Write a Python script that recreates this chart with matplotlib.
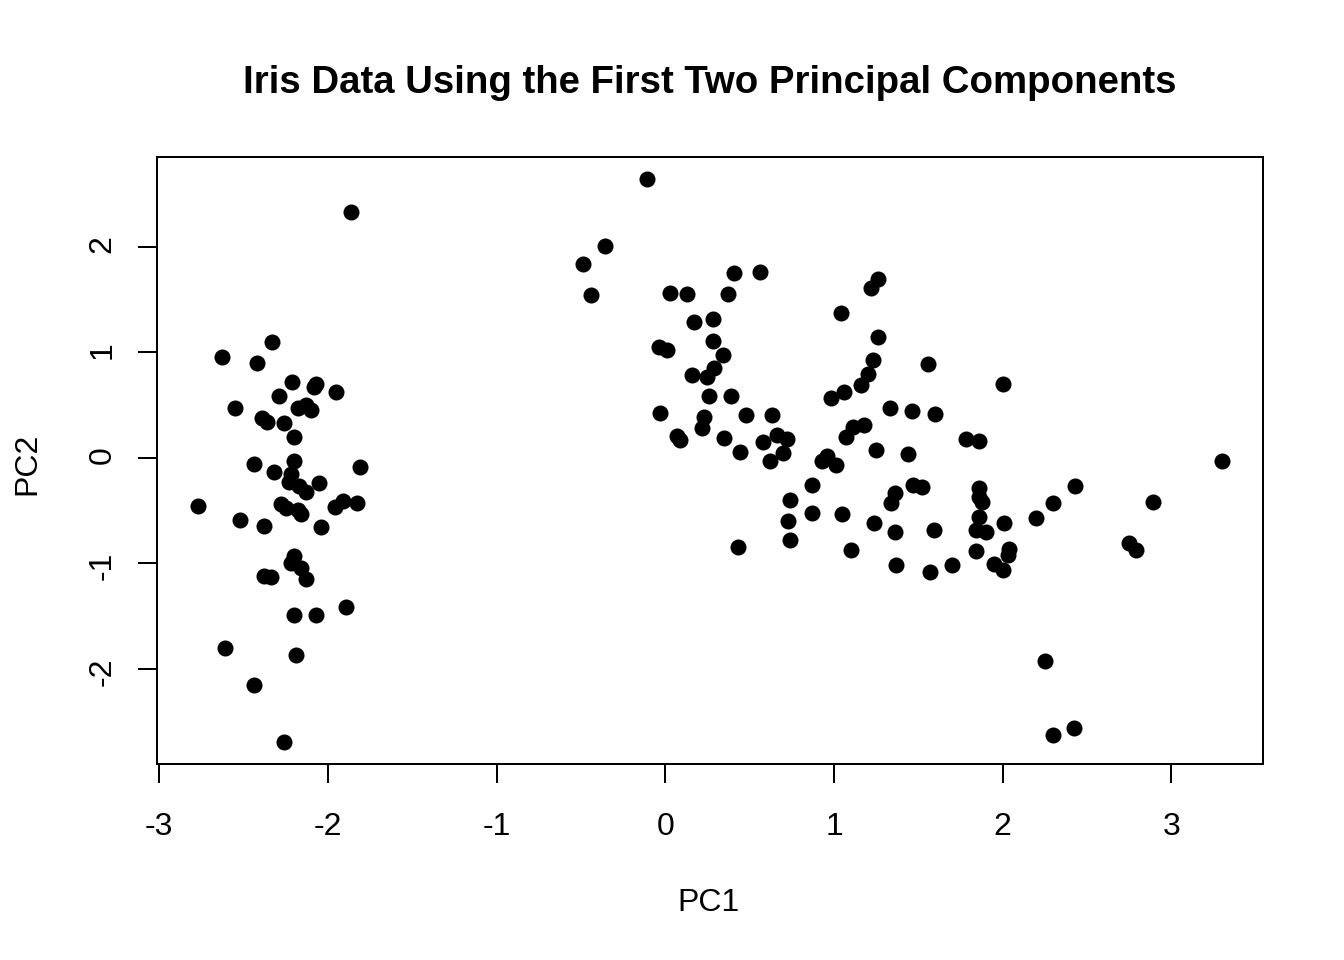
import numpy as np
import matplotlib
matplotlib.use('Agg')
import matplotlib.pyplot as plt

plt.rcParams['font.family'] = ['Liberation Sans', 'DejaVu Sans']

# PC scores (setosa group on the left, the rest on the right)
pc1_left = [-1.86, -2.33, -2.63, -2.42, -2.21, -2.07, -2.08, -1.95, -2.29, -2.55,
            -2.18, -2.13, -2.10, -2.39, -2.36, -2.26, -2.20, -2.44, -2.20, -1.81,
            -2.32, -2.22, -2.23, -2.17, -2.13, -2.05, -2.77, -2.28, -2.25, -2.18,
            -2.16, -1.96, -1.91, -1.83, -2.52, -2.38, -2.04, -2.20, -2.22, -2.16,
            -2.13, -2.38, -2.34, -1.89, -2.20, -2.07, -2.61, -2.19, -2.44, -2.26]
pc2_left = [2.33, 1.10, 0.96, 0.90, 0.72, 0.70, 0.67, 0.62, 0.59, 0.47,
            0.47, 0.50, 0.45, 0.38, 0.34, 0.33, 0.20, -0.06, -0.03, -0.09,
            -0.13, -0.15, -0.23, -0.27, -0.32, -0.24, -0.46, -0.44, -0.48, -0.49,
            -0.53, -0.47, -0.41, -0.43, -0.59, -0.65, -0.66, -0.93, -1.00, -1.04,
            -1.15, -1.12, -1.13, -1.41, -1.49, -1.49, -1.80, -1.87, -2.15, -2.69]

pc1_right = [-0.11, -0.36, -0.49, -0.44, 0.41, 0.56, 0.03, 0.13, 0.37, 0.17,
             0.28, 0.28, 0.34, -0.04, 0.01, 0.29, 0.16, 0.25, 0.26, 0.39,
             -0.03, 0.23, 0.22, 0.48, 0.63, 0.07, 0.09, 0.35, 0.44, 0.58,
             0.66, 0.72, 0.70, 0.62, 0.93, 0.96, 1.01, 0.87, 0.74, 0.87,
             0.73, 0.74, 0.43, 1.26, 1.22, 1.04, 1.26, 1.23, 1.20, 1.16,
             1.06, 0.98, 1.56, 1.33, 1.46, 1.60, 1.18, 1.11, 1.07, 1.78,
             1.25, 1.44, 1.05, 1.10, 1.36, 1.34, 1.47, 1.52, 1.24, 1.36,
             1.59, 1.37, 1.57, 1.70, 2.00, 1.86, 1.86, 1.86, 1.88, 1.86,
             1.84, 1.90, 2.01, 1.84, 2.04, 2.03, 1.95, 2.00, 2.20, 2.30,
             2.43, 3.30, 2.89, 2.75, 2.79, 2.25, 2.42, 2.30]
pc2_right = [2.64, 2.01, 1.84, 1.54, 1.75, 1.76, 1.56, 1.55, 1.55, 1.29,
             1.32, 1.11, 0.98, 1.05, 1.02, 0.85, 0.79, 0.77, 0.59, 0.59,
             0.43, 0.39, 0.28, 0.41, 0.41, 0.21, 0.17, 0.19, 0.06, 0.15,
             0.22, 0.18, 0.05, -0.03, -0.03, 0.02, -0.07, -0.26, -0.40, -0.52,
             -0.60, -0.78, -0.85, 1.70, 1.61, 1.37, 1.15, 0.93, 0.80, 0.69,
             0.62, 0.57, 0.89, 0.47, 0.44, 0.42, 0.31, 0.29, 0.20, 0.18,
             0.07, 0.04, -0.53, -0.87, -0.33, -0.43, -0.26, -0.28, -0.62, -0.70,
             -0.68, -1.02, -1.08, -1.02, 0.70, 0.16, -0.29, -0.37, -0.42, -0.56,
             -0.68, -0.70, -0.62, -0.88, -0.86, -0.92, -1.01, -1.06, -0.57, -0.43,
             -0.27, -0.03, -0.42, -0.81, -0.87, -1.93, -2.56, -2.63]

x_ticks = [-3, -2, -1, 0, 1, 2, 3]
y_ticks = [-2, -1, 0, 1, 2]

pc1 = np.array(pc1_left + pc1_right)
pc2 = np.array(pc2_left + pc2_right)

fig = plt.figure(figsize=(13.44, 9.6), dpi=100)
ax = fig.add_axes([157 / 1344, 1 - 764 / 960, (1263 - 157) / 1344, (764 - 157) / 960])

ax.scatter(pc1, pc2, s=133, c='black', linewidths=0)

# R style 4% padding on the data range
xr = pc1.max() - pc1.min()
yr = pc2.max() - pc2.min()
ax.set_xlim(pc1.min() - 0.04 * xr, pc1.max() + 0.04 * xr)
ax.set_ylim(pc2.min() - 0.04 * yr, pc2.max() + 0.04 * yr)

ax.set_xticks(x_ticks)
ax.set_yticks(y_ticks)
ax.set_xticklabels([str(t) for t in x_ticks])
ax.set_yticklabels([str(t) for t in y_ticks])

for sp in ax.spines.values():
    sp.set_linewidth(1.44)
ax.tick_params(length=13.8, width=1.44, labelsize=23, direction='out')
ax.tick_params(axis='x', pad=20.5)
ax.tick_params(axis='y', pad=14.8, labelrotation=90)

fig.text(710 / 1344, 1 - 92.7 / 960, 'Iris Data Using the First Two Principal Components',
         ha='center', va='baseline', fontsize=27.6, fontweight='bold')
fig.text(708.7 / 1344, 1 - 910.7 / 960, 'PC1', ha='center', va='baseline', fontsize=23)
fig.text(35 / 1344, 1 - 464 / 960, 'PC2', ha='center', va='baseline', fontsize=23,
         rotation=90, rotation_mode='anchor')

fig.savefig('out.png', dpi=100)
